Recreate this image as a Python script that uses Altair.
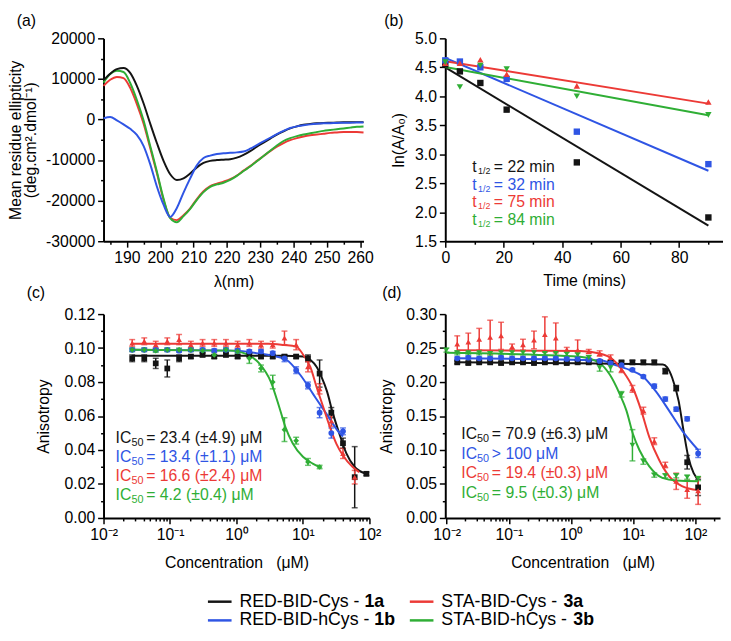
import altair as alt
import pandas as pd

FONT = "Liberation Sans, Arial, sans-serif"
KEYS = ["1a", "1b", "3a", "3b"]
NAMES = ["RED-BID-Cys - ", "RED-BID-hCys - ", "STA-BID-Cys - ", "STA-BID-hCys - "]
COLORS = ["#141414", "#2f55e4", "#ec3a36", "#2fae35"]

# ---------------- (a) CD spectra ----------------
WAVELENGTH = [183, 185, 187, 189, 191, 193, 195, 197, 199, 201, 203, 205, 207, 209, 211, 213, 215, 217, 219, 221,
              223, 225, 227, 229, 231, 233, 235, 237, 239, 241, 243, 245, 247, 249, 251, 253, 255, 257, 259, 261]
CD_1A = [9700, 11300, 12400, 12700, 11500, 8300, 4000, -1000, -5800, -10200, -13500, -14900, -14500, -13300, -11800,
         -10700, -10200, -10000, -9900, -9800, -9400, -8700, -7800, -6700, -5700, -4700, -3700, -2900, -2200, -1700,
         -1300, -1100, -950, -850, -800, -750, -700, -700, -650, -650]
CD_1B = [300, 600, -200, -1200, -2300, -3800, -6500, -11000, -16500, -21000, -24000, -21800, -18000, -14500, -11300,
         -9500, -8900, -8500, -8300, -8200, -8100, -7900, -7200, -6300, -5400, -4500, -3600, -2800, -2100, -1700,
         -1400, -1200, -1050, -950, -900, -850, -800, -780, -750, -750]
CD_3A = [8300, 9800, 10500, 10200, 7800, 3800, -1000, -7000, -13200, -19800, -24200, -24800, -23600, -21900, -19600,
         -17700, -16400, -15800, -15300, -14700, -13800, -12600, -11500, -10200, -9000, -7800, -6700, -5800, -5100,
         -4600, -4200, -3900, -3700, -3500, -3300, -3200, -3100, -3100, -3100, -3200]
CD_3B = [9100, 11200, 12000, 11700, 9000, 4800, -200, -6500, -12800, -19500, -24300, -25300, -23800, -22000, -19800,
         -17900, -16600, -16000, -15600, -14900, -13900, -12700, -11600, -10300, -9000, -7700, -6400, -5300, -4600,
         -4100, -3700, -3400, -3100, -2800, -2600, -2400, -2200, -2000, -1800, -1700]

# ---------------- (b) kinetics ----------------
TIME = [0, 5, 12, 21, 45, 90]
LN_1A = [4.55, 4.43, 4.23, 3.77, 2.86, 1.91]
LN_1B = [4.62, 4.60, 4.50, 4.30, 3.39, 2.83]
LN_3A = [4.57, 4.57, 4.63, 4.38, 4.18, 3.90]
LN_3B = [4.59, 4.16, 4.53, 4.47, 4.00, 3.68]
T_HALF = ["= 22 min", "= 32 min", "= 75 min", "= 84 min"]

# ---------------- (c) anisotropy, panel c ----------------
C_CONC = [0.027, 0.041, 0.061, 0.091, 0.137, 0.206, 0.309, 0.463, 0.694, 1.04, 1.56, 2.34, 3.51, 5.27, 7.9, 11.9,
          17.8, 26.7, 40.0, 60.0, 90.0]
C_1A = [0.094, 0.094, 0.091, 0.088, 0.094, 0.095, 0.096, 0.095, 0.096, 0.095, 0.096, 0.095, 0.095, 0.095, 0.095,
        0.094, 0.085, 0.062, 0.044, 0.024, 0.026]
C_1A_ERR = [0.002, 0.002, 0.003, 0.005, 0.002, 0.001, 0.001, 0.001, 0.001, 0.001, 0.001, 0.001, 0.001, 0.001, 0.001,
            0.002, 0.008, 0.003, 0.003, 0.018, 0.001]
C_1B = [0.099, 0.099, 0.099, 0.099, 0.0985, 0.099, 0.099, 0.0985, 0.099, 0.0985, 0.098, 0.098, 0.097, 0.094, 0.087,
        0.078, 0.062, 0.050, 0.051]
C_1B_ERR = [0.001, 0.001, 0.001, 0.001, 0.001, 0.001, 0.001, 0.001, 0.001, 0.001, 0.001, 0.001, 0.001, 0.002, 0.002,
            0.002, 0.003, 0.003, 0.002]
C_3A = [0.103, 0.104, 0.102, 0.104, 0.105, 0.102, 0.103, 0.103, 0.103, 0.102, 0.103, 0.102, 0.102, 0.106, 0.102,
        0.089, 0.076, 0.057, 0.038, 0.024]
C_3A_ERR = [0.002, 0.002, 0.002, 0.002, 0.003, 0.002, 0.002, 0.002, 0.002, 0.002, 0.002, 0.002, 0.002, 0.004, 0.003,
            0.003, 0.003, 0.003, 0.003, 0.004]
C_3B = [0.099, 0.099, 0.0985, 0.099, 0.099, 0.099, 0.0985, 0.096, 0.099, 0.098, 0.094, 0.088, 0.080, 0.052, 0.0455,
        0.033, 0.030]
C_3B_ERR = [0.001, 0.001, 0.001, 0.001, 0.001, 0.001, 0.001, 0.002, 0.001, 0.001, 0.003, 0.002, 0.004, 0.007, 0.002,
            0.002, 0.001]
C_FIT_1A_X = [0.027, 5, 10, 13, 16, 19, 23, 28, 35, 45, 60, 90]
C_FIT_1A_Y = [0.0955, 0.0955, 0.095, 0.093, 0.089, 0.083, 0.0745, 0.062, 0.050, 0.038, 0.030, 0.026]
C_FIT_1B_X = [0.027, 1, 2, 3.5, 5.7, 9.2, 14.4, 22.8, 35.6, 40]
C_FIT_1B_Y = [0.099, 0.0985, 0.097, 0.0955, 0.093, 0.084, 0.0726, 0.061, 0.050, 0.048]
C_FIT_3A_X = [0.027, 3, 5.2, 7.8, 10.2, 12.9, 16.2, 20.3, 25.6, 32, 40, 56, 70]
C_FIT_3A_Y = [0.1025, 0.1025, 0.1018, 0.101, 0.0958, 0.089, 0.0765, 0.065, 0.0532, 0.0435, 0.0368, 0.030, 0.027]
C_FIT_3B_X = [0.027, 0.8, 1.5, 2.2, 3.3, 4.5, 5.5, 7, 10, 14, 17.8]
C_FIT_3B_Y = [0.099, 0.0985, 0.096, 0.091, 0.080, 0.064, 0.053, 0.044, 0.036, 0.032, 0.030]
C_IC50 = ["= 23.4 (±4.9) μM", "= 13.4 (±1.1) μM", "= 16.6 (±2.4) μM", "= 4.2 (±0.4) μM"]

# ---------------- (d) anisotropy, panel d ----------------
D_CONC = [0.0148, 0.0223, 0.0334, 0.0501, 0.0751, 0.113, 0.169, 0.254, 0.380, 0.570, 0.855, 1.28, 1.93, 2.89, 4.33,
          6.50, 9.74, 14.6, 21.9, 32.9, 49.3, 74.0, 111.0]
D_CONC_3B = [0.0099] + D_CONC
D_1A = [0.229, 0.228, 0.229, 0.229, 0.228, 0.229, 0.229, 0.228, 0.229, 0.229, 0.228, 0.229, 0.229, 0.229, 0.229,
        0.229, 0.229, 0.229, 0.229, 0.216, 0.191, 0.082, 0.045]
D_1A_ERR = [0.002, 0.002, 0.002, 0.002, 0.002, 0.002, 0.002, 0.002, 0.002, 0.002, 0.002, 0.002, 0.002, 0.002, 0.002,
            0.002, 0.003, 0.003, 0.003, 0.004, 0.004, 0.010, 0.012]
D_1B = [0.235, 0.236, 0.235, 0.235, 0.236, 0.235, 0.235, 0.235, 0.235, 0.235, 0.234, 0.234, 0.233, 0.231, 0.228,
        0.225, 0.218, 0.208, 0.194, 0.175, 0.160, 0.146, 0.095]
D_1B_ERR = [0.002, 0.002, 0.002, 0.002, 0.002, 0.002, 0.002, 0.002, 0.002, 0.002, 0.002, 0.002, 0.002, 0.002, 0.002,
            0.002, 0.002, 0.002, 0.003, 0.003, 0.003, 0.003, 0.006]
D_3A = [0.256, 0.259, 0.263, 0.266, 0.268, 0.252, 0.255, 0.262, 0.270, 0.265, 0.248, 0.247, 0.245, 0.242, 0.236,
        0.218, 0.190, 0.158, 0.113, 0.078, 0.054, 0.042, 0.040]
D_3A_ERR = [0.012, 0.013, 0.016, 0.025, 0.020, 0.004, 0.008, 0.013, 0.026, 0.022, 0.003, 0.015, 0.003, 0.004, 0.004,
            0.004, 0.005, 0.005, 0.005, 0.004, 0.012, 0.013, 0.020]
D_3B = [0.247, 0.243, 0.243, 0.243, 0.242, 0.243, 0.243, 0.243, 0.243, 0.242, 0.242, 0.241, 0.240, 0.236, 0.221,
        0.221, 0.182, 0.107, 0.083, 0.063, 0.062, 0.062, 0.060, 0.058]
D_3B_ERR = [0.003, 0.003, 0.003, 0.003, 0.003, 0.003, 0.003, 0.003, 0.003, 0.003, 0.003, 0.003, 0.003, 0.003, 0.005,
            0.006, 0.004, 0.023, 0.004, 0.003, 0.003, 0.003, 0.003, 0.003]
D_FIT_1A_X = [0.0148, 30, 35, 42.6, 54, 64.5, 77, 94, 111]
D_FIT_1A_Y = [0.229, 0.226, 0.222, 0.206, 0.172, 0.129, 0.090, 0.066, 0.057]
D_FIT_1B_X = [0.0148, 3, 4.8, 8.7, 14.2, 22.9, 37.8, 61, 111]
D_FIT_1B_Y = [0.235, 0.232, 0.226, 0.218, 0.2085, 0.187, 0.158, 0.129, 0.100]
D_FIT_3A_X = [0.0148, 1.4, 2.9, 4.8, 6.9, 9.9, 13.5, 18.2, 26.1, 37.8, 61, 111]
D_FIT_3A_Y = [0.247, 0.2456, 0.242, 0.2326, 0.2157, 0.1916, 0.158, 0.119, 0.0857, 0.0616, 0.047, 0.041]
D_FIT_3B_X = [0.0099, 1.4, 2.9, 4.2, 6.1, 7.8, 9.9, 12.6, 18.2, 29.5, 50, 111]
D_FIT_3B_Y = [0.243, 0.2374, 0.2277, 0.211, 0.182, 0.158, 0.124, 0.100, 0.076, 0.059, 0.055, 0.054]
D_IC50 = ["= 70.9 (±6.3) μM", "> 100 μM", "= 19.4 (±0.3) μM", "\u00a0\u00a0\u00a0= 9.5 (±0.3) μM"]

# ---------------- helpers ----------------
COLOR = alt.Color("s:N", scale=alt.Scale(domain=KEYS, range=COLORS), legend=None)

# Arial / Liberation Sans advance widths (per 1000 em) for measuring the legend prefixes
ARIAL_W = {"R": 722, "E": 667, "D": 722, "-": 333, "B": 667, "I": 278, "C": 722, "y": 500, "s": 500, " ": 278,
           "h": 556, "S": 667, "T": 611, "A": 667}
LEG_FS = 18


def text_w(txt, fs):
    return sum(ARIAL_W.get(ch, 556) for ch in txt) * fs / 1000.0


def tsize(test):
    return {"condition": {"test": test, "value": 6}, "value": 3}


def long_df(xname, yname, xs, ys, keys, extra=None):
    frames = []
    for i, k in enumerate(keys):
        d = {xname: xs[i], yname: ys[i], "s": k}
        if extra is not None:
            d["err"] = extra[i]
        frames.append(pd.DataFrame(d))
    return pd.concat(frames, ignore_index=True)


def panel_title(txt, dx, dy):
    return alt.TitleParams(txt, anchor="start", frame="group", dx=dx, dy=dy, offset=0, baseline="bottom",
                           fontSize=16, fontWeight="normal", font=FONT)


# ---------------- (a) ----------------
cd_df = long_df("wl", "mre", [WAVELENGTH] * 4, [CD_3A, CD_3B, CD_1A, CD_1B], ["3a", "3b", "1a", "1b"])
xa = alt.X("wl:Q", scale=alt.Scale(domain=[183, 261], nice=False, zero=False),
           axis=alt.Axis(title="λ(nm)", values=list(range(185, 261, 5)),
                         labelExpr="datum.value % 10 === 0 ? datum.label : ''",
                         tickSize=tsize("datum.value % 10 === 0"), titlePadding=8))
ya = alt.Y("mre:Q", scale=alt.Scale(domain=[-30000, 20000], nice=False, zero=False),
           axis=alt.Axis(title=["Mean residue ellipticity", "(deg.cm².dmol⁻¹)"],
                         values=list(range(-30000, 20001, 5000)),
                         labelExpr="datum.value % 10000 === 0 ? (datum.value < 0 ? '-' + format(-datum.value, 'd') : format(datum.value, 'd')) : ''",
                         tickSize=tsize("datum.value % 10000 === 0"), titlePadding=7, titleLineHeight=15))
chart_a = alt.Chart(cd_df).mark_line(strokeWidth=2, interpolate="monotone").encode(
    x=xa, y=ya, color=COLOR).properties(width=264, height=206, title=panel_title("(a)", -88, 14))

# ---------------- (b) ----------------
b_df = long_df("t", "lnA", [TIME] * 4, [LN_1A, LN_1B, LN_3A, LN_3B], KEYS)
xb = alt.X("t:Q", scale=alt.Scale(domain=[0, 95], nice=False, zero=False),
           axis=alt.Axis(title="Time (mins)", values=list(range(0, 91, 10)),
                         labelExpr="datum.value % 20 === 0 ? datum.label : ''",
                         tickSize=tsize("datum.value % 20 === 0"), titlePadding=7))
yb = alt.Y("lnA:Q", scale=alt.Scale(domain=[1.5, 5.0], nice=False, zero=False),
           axis=alt.Axis(title="ln(A/A₀)", values=[1.5, 2.0, 2.5, 3.0, 3.5, 4.0, 4.5, 5.0], format=".1f",
                         tickSize=6, titlePadding=8))
b_fit = alt.Chart(b_df).transform_regression("t", "lnA", groupby=["s"], extent=[0, 90]).mark_line(
    strokeWidth=2).encode(x=xb, y=yb, color=COLOR)
b_pts = alt.Chart(b_df).mark_point(filled=True, size=42, opacity=1).encode(
    x=xb, y=yb, color=COLOR,
    shape=alt.Shape("s:N", scale=alt.Scale(domain=KEYS, range=["square", "square", "triangle-up", "triangle-down"]),
                    legend=None))
b_ann = alt.Chart(pd.DataFrame({"s": KEYS, "half": T_HALF})).transform_window(
    i="row_number()").transform_calculate(t="9.2", lnA="2.78 - 0.305 * (datum.i - 1)")
b_t = b_ann.mark_text(text="t", align="left", baseline="middle", fontSize=16, font=FONT).encode(
    x=xb, y=yb, color=COLOR)
b_sub = b_ann.mark_text(text="1/2", align="left", baseline="middle", fontSize=9, dx=6, dy=4, font=FONT).encode(
    x=xb, y=yb, color=COLOR)
b_rest = b_ann.mark_text(align="left", baseline="middle", fontSize=16, dx=22, font=FONT).encode(
    x=xb, y=yb, color=COLOR, text="half:N")
chart_b = alt.layer(b_fit, b_pts, b_t, b_sub, b_rest).properties(
    width=282, height=206, title=panel_title("(b)", -62, 14))


# ---------------- (c) and (d) ----------------
def log_axis(maxv):
    vals = []
    for dec in [0.01, 0.1, 1, 10, 100]:
        for m in range(1, 10):
            v = round(dec * m, 6)
            if v <= maxv:
                vals.append(v)
    lab = ("datum.value < 0.05 ? '10⁻²' : datum.value < 0.5 ? (datum.value == 0.1 ? '10⁻¹' : '') : "
           "datum.value < 5 ? (datum.value == 1 ? '10⁰' : '') : datum.value < 50 ? (datum.value == 10 ? '10¹' : '') : "
           "(datum.value == 100 ? '10²' : '')")
    lab = "(abs(log(datum.value)/LN10 - round(log(datum.value)/LN10)) < 0.001) ? (" + lab + ") : ''"
    return alt.Axis(title="Concentration\u00a0\u00a0\u00a0(μM)", values=vals, labelExpr=lab,
                    tickSize=tsize("abs(log(datum.value)/LN10 - round(log(datum.value)/LN10)) < 0.001"),
                    titlePadding=12)


def aniso_panel(conc_lists, vals, errs, fit_x, fit_y, shapes, ic50, xdom, ydom, yvals, ylab_test, yfmt,
                width, ann_x, ann_y0, ann_dy, title, tdx, ytp):
    X = alt.X("conc:Q", scale=alt.Scale(type="log", domain=xdom, nice=False), axis=log_axis(xdom[1]))
    yaxis = alt.Axis(title="Anisotropy", values=yvals,
                     labelExpr="(" + ylab_test + ") ? format(datum.value, '" + yfmt + "') : ''",
                     tickSize=tsize(ylab_test), titlePadding=ytp)
    yscale = alt.Scale(domain=ydom, nice=False, zero=False)
    Y = alt.Y("aniso:Q", scale=yscale, axis=yaxis)
    pts = long_df("conc", "aniso", conc_lists, vals, KEYS, extra=errs)
    pts["lo"] = pts["aniso"] - pts["err"]
    pts["hi"] = pts["aniso"] + pts["err"]
    fit = long_df("conc", "aniso", fit_x, fit_y, KEYS)
    l_fit = alt.Chart(fit).mark_line(strokeWidth=2, interpolate="monotone").encode(x=X, y=Y, color=COLOR)
    l_err = alt.Chart(pts).mark_errorbar(ticks=True, size=6, thickness=1.5).encode(
        x=X, y=alt.Y("lo:Q", scale=yscale, axis=yaxis), y2="hi:Q", color=COLOR)
    l_pts = alt.Chart(pts).mark_point(filled=True, size=34, opacity=1).encode(
        x=X, y=Y, color=COLOR,
        shape=alt.Shape("s:N", scale=alt.Scale(domain=KEYS, range=shapes), legend=None))
    ann = alt.Chart(pd.DataFrame({"s": KEYS, "ic": ic50})).transform_window(
        i="row_number()").transform_calculate(
        conc=str(ann_x), aniso=f"{ann_y0} - {ann_dy} * (datum.i - 1)")
    a1 = ann.mark_text(text="IC", align="left", baseline="middle", fontSize=16, font=FONT).encode(
        x=X, y=Y, color=COLOR)
    a2 = ann.mark_text(text="50", align="left", baseline="middle", fontSize=11, dx=16, dy=5, font=FONT).encode(
        x=X, y=Y, color=COLOR)
    a3 = ann.mark_text(align="left", baseline="middle", fontSize=16, dx=31, font=FONT).encode(
        x=X, y=Y, color=COLOR, text="ic:N")
    return alt.layer(l_err, l_fit, l_pts, a1, a2, a3).properties(
        width=width, height=207, title=panel_title(title, tdx, 11))


chart_c = aniso_panel(
    [C_CONC, C_CONC[:19], C_CONC[:20], C_CONC[:17]], [C_1A, C_1B, C_3A, C_3B],
    [C_1A_ERR, C_1B_ERR, C_3A_ERR, C_3B_ERR],
    [C_FIT_1A_X, C_FIT_1B_X, C_FIT_3A_X, C_FIT_3B_X], [C_FIT_1A_Y, C_FIT_1B_Y, C_FIT_3A_Y, C_FIT_3B_Y],
    ["square", "circle", "triangle-up", "diamond"], C_IC50, [0.01, 100], [0, 0.12],
    [round(0.01 * k, 2) for k in range(13)], "round(datum.value * 100) % 2 === 0", ".2f",
    270, 0.0152, 0.047, 0.0112, "(c)", -78, 13)

chart_d = aniso_panel(
    [D_CONC, D_CONC, D_CONC, D_CONC_3B], [D_1A, D_1B, D_3A, D_3B],
    [D_1A_ERR, D_1B_ERR, D_3A_ERR, D_3B_ERR],
    [D_FIT_1A_X, D_FIT_1B_X, D_FIT_3A_X, D_FIT_3B_X], [D_FIT_1A_Y, D_FIT_1B_Y, D_FIT_3A_Y, D_FIT_3B_Y],
    ["square", "circle", "triangle-up", "triangle-down"], D_IC50, [0.0095, 250], [0, 0.30],
    [round(0.025 * k, 3) for k in range(13)], "round(datum.value * 1000) % 50 === 0", ".2f",
    279, 0.0172, 0.1233, 0.0289, "(d)", -64, 11)

# ---------------- legend ----------------
leg_df = pd.DataFrame({"s": KEYS, "name": NAMES, "pw": [text_w(n, LEG_FS) for n in NAMES]})
leg_base = alt.Chart(leg_df).transform_window(
    i="row_number()").transform_calculate(
    col="floor((datum.i - 1) / 2)", row="(datum.i - 1) % 2").transform_calculate(
    lx="118 + 205 * datum.col", ly="11 + 19 * datum.row").transform_calculate(
    x1="datum.lx - 12", x2="datum.lx + 12", tx="datum.lx + 20",
    bx="datum.lx + 20 + datum.pw")
LX = alt.Scale(domain=[0, 270], nice=False, zero=False)
LY = alt.Scale(domain=[0, 30], nice=False, zero=False, reverse=True)
leg_line = leg_base.mark_rule(strokeWidth=2.5).encode(
    x=alt.X("x1:Q", scale=LX, axis=None), x2="x2:Q", y=alt.Y("ly:Q", scale=LY, axis=None), color=COLOR)
leg_txt = leg_base.mark_text(align="left", baseline="middle", fontSize=LEG_FS, font=FONT, color="black").encode(
    x=alt.X("tx:Q", scale=LX, axis=None), y=alt.Y("ly:Q", scale=LY, axis=None), text="name:N")
leg_bold = leg_base.mark_text(align="left", baseline="middle", fontSize=LEG_FS, font=FONT, fontWeight="bold",
                              color="black").encode(
    x=alt.X("bx:Q", scale=LX, axis=None), y=alt.Y("ly:Q", scale=LY, axis=None), text="s:N")
legend = alt.layer(leg_line, leg_txt, leg_bold).properties(width=270, height=30)

chart = alt.concat(chart_a, chart_b, chart_c, chart_d, legend, columns=2,
                   spacing={"row": 74, "column": 77}, bounds="flush").resolve_scale(
    x="independent", y="independent", shape="independent").properties(padding=0).configure(
    font=FONT).configure_view(stroke=None).configure_axis(
    domainColor="black", domainWidth=2, tickColor="black", tickWidth=1.5, labelFont=FONT, labelFontSize=16,
    labelColor="black", titleFont=FONT, titleFontSize=16, titleFontWeight="normal", titleColor="black",
    grid=False, labelPadding=3, labelFlush=False, labelOverlap=False)

chart.save("out.html", embed_options={"renderer": "svg", "actions": False})
